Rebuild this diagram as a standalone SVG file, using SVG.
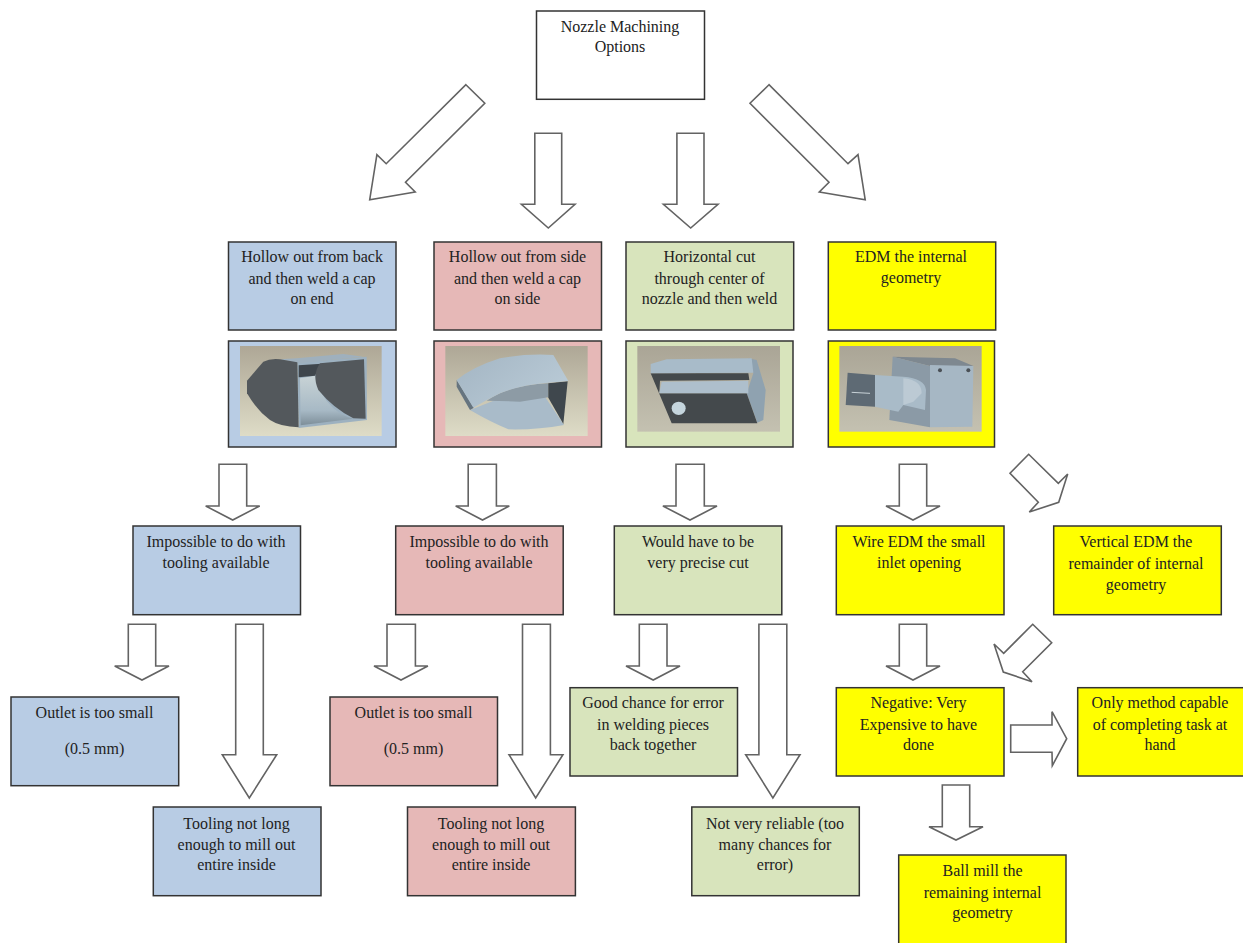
<svg xmlns="http://www.w3.org/2000/svg" width="1243" height="943" viewBox="0 0 1243 943">
<style>
.box{stroke:#333;stroke-width:1.5}
.white{fill:#fff}.blue{fill:#b8cce4}.pink{fill:#e6b8b7}.green{fill:#d8e4bc}.yellow{fill:#ff0}
.arrow{fill:#fff;stroke:#636363;stroke-width:1.6;stroke-linejoin:miter}
text{font-family:"Liberation Serif","Times New Roman",serif;font-size:16px;fill:#222;text-anchor:middle}
</style>
<defs>
<linearGradient id="bg1" x1="0" y1="0" x2="0" y2="1"><stop offset="0" stop-color="#aea796"/><stop offset="1" stop-color="#dedcc7"/></linearGradient>
<linearGradient id="bg2" x1="0" y1="0" x2="0" y2="1"><stop offset="0" stop-color="#aaa596"/><stop offset="1" stop-color="#c4c1b1"/></linearGradient>
<linearGradient id="funnel" x1="0" y1="0" x2="0" y2="1"><stop offset="0" stop-color="#c8d3d6"/><stop offset=".7" stop-color="#a7b9c5"/><stop offset="1" stop-color="#7d8e99"/></linearGradient>
<linearGradient id="body" x1="0" y1="0" x2="1" y2="0.6"><stop offset="0" stop-color="#a3b5c3"/><stop offset="1" stop-color="#b9cad6"/></linearGradient>
</defs>
<g id="connectors">
<polygon class="arrow" points="465.9,84.7 484.8,103.3 405.5,182.3 415.2,192 369.7,199.7 376.9,154.7 386.2,163.7"/>
<polygon class="arrow" points="769,84.7 750,103.3 829,182.3 819.3,192 865.2,199.7 858,154.7 848,163.7"/>
<polygon class="arrow" points="534.8,133.3 561.7,133.3 561.7,204.3 575,204.3 548.3,228 521.4,204.3 534.8,204.3"/>
<polygon class="arrow" points="676.9,133.3 704,133.3 704,204.3 718,204.3 690.7,228 663.4,204.3 676.9,204.3"/>
<polygon class="arrow" points="219,464.3 246.7,464.3 246.7,506 259.7,506 232.7,520 205.7,506 219,506"/>
<polygon class="arrow" points="468.2,464.3 496.4,464.3 496.4,506 509.3,506 482.5,520 455.7,506 468.2,506"/>
<polygon class="arrow" points="676,464.3 704.3,464.3 704.3,506 717,506 690,520 662.9,506 676,506"/>
<polygon class="arrow" points="899.3,464.3 926.7,464.3 926.7,506 940,506 913,520 886,506 899.3,506"/>
<polygon class="arrow" points="1028.7,454.3 1010,473.3 1038.3,502.3 1029.3,512 1058.7,502.3 1067.7,474 1058.3,483.3"/>
<polygon class="arrow" points="128.3,624.3 155.7,624.3 155.7,666 169,666 142,680 114.7,666 128.3,666"/>
<polygon class="arrow" points="235.7,624.3 263.3,624.3 263.3,754.7 276.7,754.7 249.3,798 222.3,754.7 235.7,754.7"/>
<polygon class="arrow" points="387,624.3 415.4,624.3 415.4,666 427.9,666 401,680 374,666 387,666"/>
<polygon class="arrow" points="522.5,624.3 550.4,624.3 550.4,754.7 562.9,754.7 535.7,798 509,754.7 522.5,754.7"/>
<polygon class="arrow" points="639.3,624.3 667,624.3 667,666 680,666 653.2,680 626,666 639.3,666"/>
<polygon class="arrow" points="758.9,624.3 786.8,624.3 786.8,754.7 800,754.7 772.9,798 745.7,754.7 758.9,754.7"/>
<polygon class="arrow" points="899.3,624.3 926.7,624.3 926.7,666 940,666 913,680 886,666 899.3,666"/>
<polygon class="arrow" points="1032.7,624.3 1051.7,642.7 1022.7,671.7 1032,681.7 1003.3,672 994,644 1003.7,653.3"/>
<polygon class="arrow" points="1010.7,725 1052,725 1052,711.7 1066.7,738.7 1052.3,765.7 1052,752.3 1010.7,752.3"/>
<polygon class="arrow" points="942.3,785 969.7,785 969.7,826.7 983,826.7 956,840 929,826.7 942.3,826.7"/>
</g>
<g id="root"><rect class="box white" x="536.5" y="11" width="168" height="88.3"/><text x="620" y="32">Nozzle Machining</text><text x="620" y="52">Options</text></g>
<g id="opt-back"><rect class="box blue" x="228.5" y="242" width="167.5" height="88"/><text x="312" y="262">Hollow out from back</text><text x="312" y="284">and then weld a cap</text><text x="312" y="304">on end</text></g>
<g id="opt-side"><rect class="box pink" x="434" y="242" width="167.5" height="88"/><text x="517.5" y="262">Hollow out from side</text><text x="517.5" y="284">and then weld a cap</text><text x="517.5" y="304">on side</text></g>
<g id="opt-horizontal"><rect class="box green" x="626" y="242" width="167.7" height="88"/><text x="709.5" y="262">Horizontal cut</text><text x="709.5" y="284">through center of</text><text x="709.5" y="304">nozzle and then weld</text></g>
<g id="opt-edm"><rect class="box yellow" x="828.3" y="242" width="167.4" height="88"/><text x="911" y="262">EDM the internal</text><text x="911" y="283">geometry</text></g>
<g id="img-back"><rect class="box blue" x="228.5" y="341" width="167.5" height="106"/>
<g transform="translate(220 230) scale(.33333)">
<rect x="60" y="348" width="425" height="270" fill="url(#bg1)"/>
<path d="M180 388L230 385L370 372L430 380L232 400Z" fill="#9fb0bd"/>
<path d="M232 398L440 380L441 570L236 594Z" fill="#9db1c0"/>
<path d="M240 445L285 437Q295 490 340 535Q370 560 400 566L242 586Z" fill="url(#funnel)"/>
<path d="M236 406L305 401L285 437L236 442Z" fill="#3f464c"/>
<path d="M300 400L432 388L437 566L400 565Q340 535 295 480Q275 435 300 400Z" fill="#53585c"/>
<path d="M81 452L130 395Q150 385 180 388L232 397L236 592Q180 590 150 570Q110 540 81 490Z" fill="#53585c"/>
</g></g>
<g id="img-side"><rect class="box pink" x="434" y="341" width="167.5" height="106"/>
<g transform="translate(220 230) scale(.33333)">
<rect x="676" y="348" width="427" height="270" fill="url(#bg1)"/>
<path d="M750 540L840 505L975 500L1032 585Q950 600 865 598Q810 575 750 540Z" fill="#a9bbc9"/>
<path d="M710 450L762 533L750 540L710 470Z" fill="#66747f"/>
<path d="M800 512Q870 465 985 460L985 502L900 515Z" fill="#8d9ba5"/>
<path d="M985 460L1043 454L1030 582L985 503Z" fill="#3f474d"/>
<path d="M710 450Q760 410 840 385Q920 370 1000 375L1045 453L985 458Q900 465 840 490Q800 510 760 533Z" fill="url(#body)"/>
</g></g>
<g id="img-horizontal"><rect class="box green" x="626" y="341" width="167" height="106"/>
<g transform="translate(620 230) scale(.33333)">
<rect x="52" y="348" width="428" height="257" fill="url(#bg2)"/>
<path d="M385 385L410 390L437 480L430 570L412 578L380 490L400 430Z" fill="#8fa2b0"/>
<path d="M92 430L385 430L388 450L120 452L118 490L380 490L412 580L155 580Z" fill="#44494c"/>
<path d="M92 402L140 388L395 385L400 428L92 430Z" fill="#a8bbc9"/>
<path d="M125 455L385 452L385 490L118 490Z" fill="#aebfcc"/>
<ellipse cx="176" cy="535" rx="21" ry="20" fill="#c5d5dd"/>
</g></g>
<g id="img-edm"><rect class="box yellow" x="828.3" y="341" width="166.2" height="106"/>
<g transform="translate(620 230) scale(.33333)">
<rect x="658" y="348" width="427" height="257" fill="url(#bg2)"/>
<path d="M818 380L1005 385L1060 408L930 408Z" fill="#7e8890"/>
<path d="M818 380L930 408L930 592L808 570Z" fill="#8b9aa6"/>
<path d="M930 405L1060 408L1057 590L930 592Z" fill="#a6b7c4"/>
<circle cx="960" cy="421" r="6" fill="#4a5056"/><circle cx="1045" cy="421" r="6" fill="#4a5056"/>
<path d="M765 435L850 440Q915 445 918 480L915 540L850 525L835 545L765 530Z" fill="#a9bbc8"/>
<path d="M850 445Q905 450 905 490L880 515L850 525Z" fill="#bccad4"/>
<path d="M683 428L765 435L765 530L677 525Z" fill="#5e6a74"/>
<path d="M695 487L750 490" stroke="#c9d3d8" stroke-width="3" fill="none"/>
</g></g>
<g id="imp-blue"><rect class="box blue" x="133" y="526" width="167.5" height="88.7"/><text x="216" y="547">Impossible to do with</text><text x="216" y="568">tooling available</text></g>
<g id="imp-pink"><rect class="box pink" x="395.7" y="526" width="167.5" height="88.7"/><text x="479" y="547">Impossible to do with</text><text x="479" y="568">tooling available</text></g>
<g id="precise"><rect class="box green" x="614.3" y="526" width="167.5" height="88.7"/><text x="698" y="547">Would have to be</text><text x="698" y="568">very precise cut</text></g>
<g id="wire"><rect class="box yellow" x="836.3" y="526" width="167.7" height="88.7"/><text x="919" y="547">Wire EDM the small</text><text x="919" y="568">inlet opening</text></g>
<g id="vertical"><rect class="box yellow" x="1053.7" y="526" width="167.6" height="88.7"/><text x="1136" y="547">Vertical EDM the</text><text x="1136" y="569">remainder of internal</text><text x="1136" y="590">geometry</text></g>
<g id="outlet-blue"><rect class="box blue" x="11" y="697" width="167.7" height="88.7"/><text x="94.500" y="718">Outlet is too small</text><text x="94.500" y="754">(0.5 mm)</text></g>
<g id="outlet-pink"><rect class="box pink" x="330" y="697" width="167.5" height="88.7"/><text x="413.500" y="718">Outlet is too small</text><text x="413.500" y="754">(0.5 mm)</text></g>
<g id="chance"><rect class="box green" x="570" y="687.700" width="167.5" height="88.300"/><text x="653" y="708">Good chance for error</text><text x="653" y="730">in welding pieces</text><text x="653" y="750">back together</text></g>
<g id="negative"><rect class="box yellow" x="836.3" y="687.7" width="167.7" height="88.3"/><text x="918.500" y="708">Negative: Very</text><text x="918.500" y="730">Expensive to have</text><text x="918.500" y="750">done</text></g>
<g id="only"><rect class="box yellow" x="1077.7" y="687.7" width="170" height="88.3"/><text x="1160" y="708">Only method capable</text><text x="1160" y="730">of completing task at</text><text x="1160" y="750">hand</text></g>
<g id="tool-blue"><rect class="box blue" x="153.3" y="807" width="167.700" height="88.700"/><text x="236.500" y="829">Tooling not long</text><text x="236.500" y="850">enough to mill out</text><text x="236.500" y="870">entire inside</text></g>
<g id="tool-pink"><rect class="box pink" x="407.500" y="807" width="167.900" height="88.700"/><text x="491" y="829">Tooling not long</text><text x="491" y="850">enough to mill out</text><text x="491" y="870">entire inside</text></g>
<g id="reliable"><rect class="box green" x="691.800" y="807" width="167.500" height="88.700"/><text x="775" y="829">Not very reliable (too</text><text x="775" y="850">many chances for</text><text x="775" y="870">error)</text></g>
<g id="ball"><rect class="box yellow" x="898.700" y="855" width="167.300" height="100"/><text x="982.500" y="876">Ball mill the</text><text x="982.500" y="898">remaining internal</text><text x="982.500" y="918">geometry</text></g>
</svg>
